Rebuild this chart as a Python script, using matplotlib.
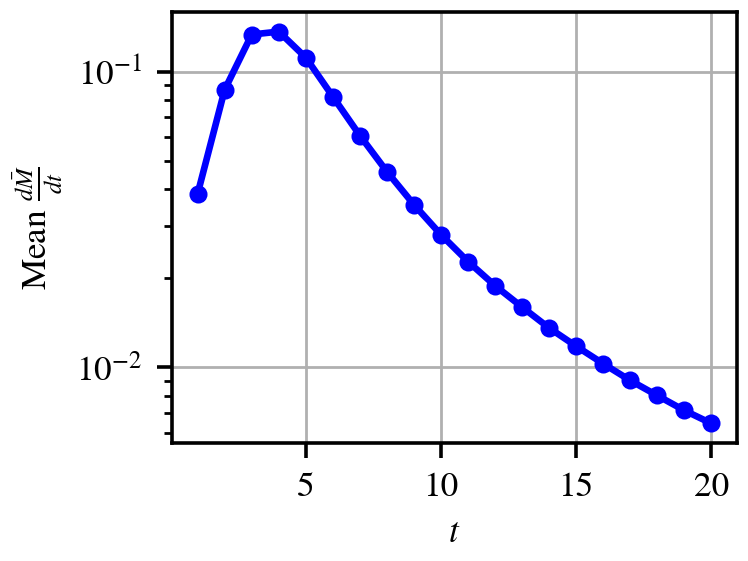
import matplotlib
matplotlib.use("Agg")
import matplotlib.pyplot as plt

t = list(range(1, 21))
mean_dMdt = [0.0387, 0.0869, 0.1334, 0.1365, 0.1115, 0.0823, 0.0608, 0.0459,
             0.0355, 0.0281, 0.0228, 0.0189, 0.0160, 0.0136, 0.0118, 0.0103,
             0.00904, 0.00804, 0.00716, 0.00647]

plt.rcParams['font.family'] = ['STIXGeneral', 'DejaVu Serif']
plt.rcParams['mathtext.fontset'] = 'stix'
plt.rcParams['font.size'] = 12.7

fig = plt.figure(figsize=(3.74, 2.805), dpi=200)
ax = fig.add_axes([172/748, 1 - 443/561, (737-172)/748, (443-12)/561])
ax.plot(t, mean_dMdt, color='blue', marker='o', lw=2.4, ms=5.5)
ax.set_yscale('log')
ax.grid(True, which='major', color='#b0b0b0', lw=1)
ax.set_xticks([5, 10, 15, 20])
ax.set_xlabel('$t$', labelpad=5)
ax.set_ylabel(r'Mean $\frac{d\bar{M}}{dt}$', labelpad=4)
for s in ax.spines.values():
    s.set_linewidth(1.3)
ax.tick_params(which='major', width=1.3, length=5.5, pad=5)
ax.tick_params(which='minor', width=1.0, length=3)
fig.savefig('out.png', dpi=200)
